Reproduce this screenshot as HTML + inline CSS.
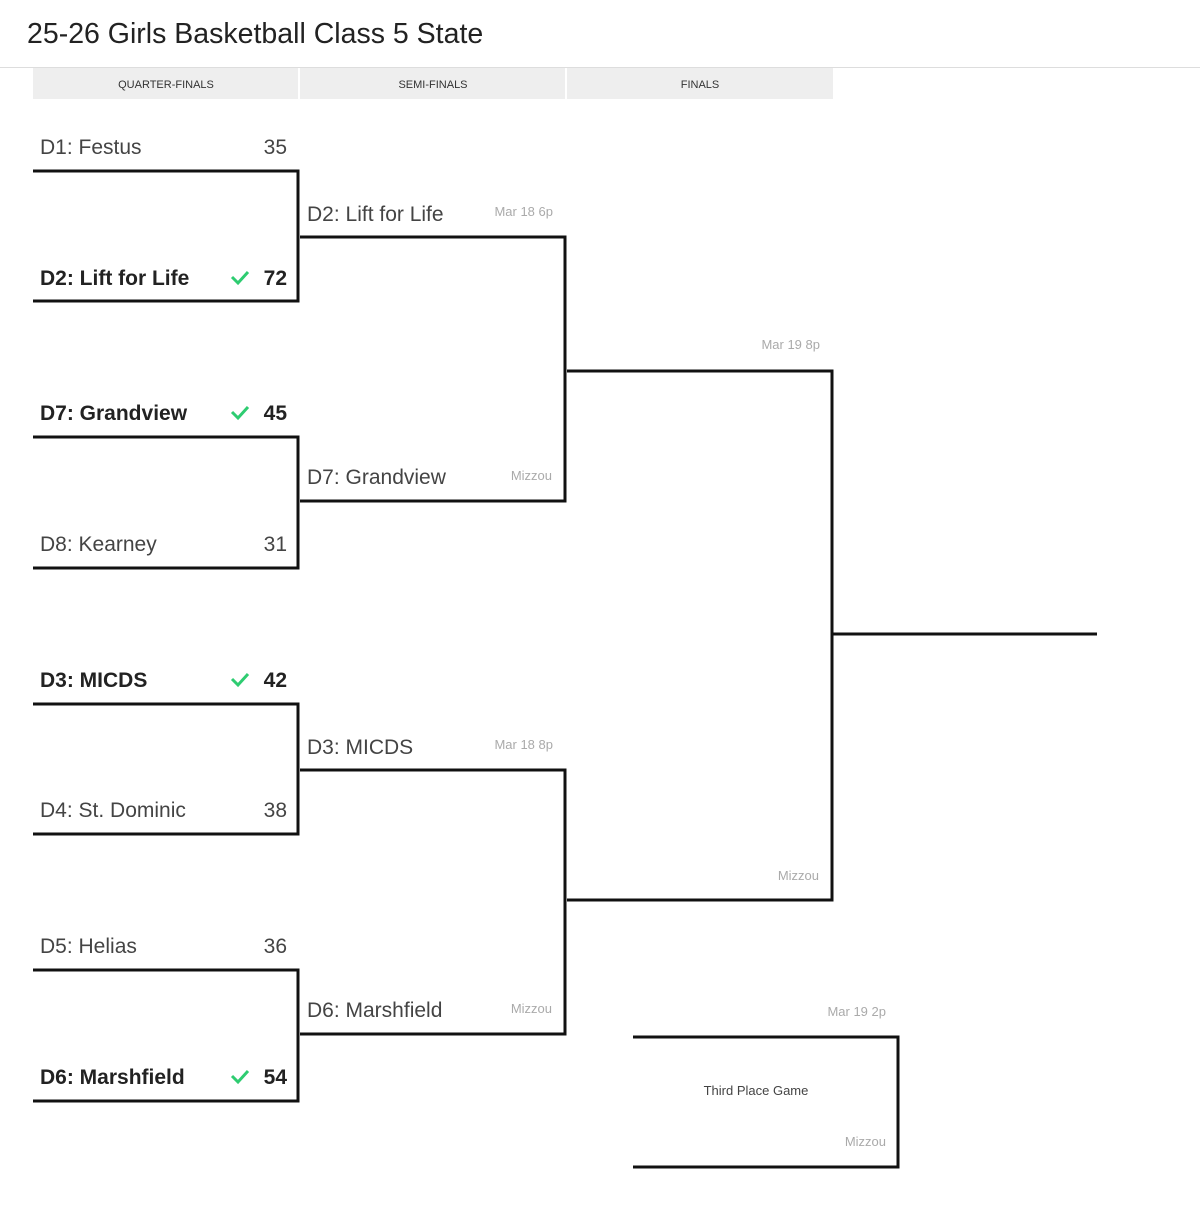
<!DOCTYPE html>
<html><head><meta charset="utf-8"><style>
html,body{margin:0;padding:0;background:#fff;width:1200px;height:1216px;overflow:hidden}
svg text{font-family:"Liberation Sans",sans-serif}
.n{font-size:21px;fill:#444;font-weight:300}
.b{font-size:21px;fill:#222;font-weight:bold}
.s{font-size:13px;fill:#aaa}
.h{font-size:11px;fill:#333}
</style></head><body>
<svg width="1200" height="1216" xmlns="http://www.w3.org/2000/svg">
<text x="27" y="43" style="font-size:28.5px;fill:#222">25-26 Girls Basketball Class 5 State</text>
<line x1="0" y1="67.5" x2="1200" y2="67.5" stroke="#ddd" stroke-width="1"/>
<rect x="33" y="68" width="265" height="31" fill="#eee"/>
<rect x="300" y="68" width="265" height="31" fill="#eee"/>
<rect x="567" y="68" width="266" height="31" fill="#eee"/>
<text class="h" x="166" y="88" text-anchor="middle">QUARTER-FINALS</text>
<text class="h" x="433" y="88" text-anchor="middle">SEMI-FINALS</text>
<text class="h" x="700" y="88" text-anchor="middle">FINALS</text>
<g fill="none" stroke="#111" stroke-width="3">
<path d="M33 171H298V301H33"/>
<path d="M33 437H298V568H33"/>
<path d="M33 704H298V834H33"/>
<path d="M33 970H298V1101H33"/>
<path d="M300 237H565V501H300"/>
<path d="M300 770H565V1034H300"/>
<path d="M567 371H832V900H567"/>
<path d="M832 634H1097"/>
<path d="M633 1037H898V1167H633"/>
</g>
<g>
<text class="n" x="40" y="154">D1: Festus</text><text class="n" x="287" y="154" text-anchor="end">35</text>
<text class="b" x="40" y="285">D2: Lift for Life</text><text class="b" x="287" y="285" text-anchor="end">72</text>
<text class="b" x="40" y="420">D7: Grandview</text><text class="b" x="287" y="420" text-anchor="end">45</text>
<text class="n" x="40" y="551">D8: Kearney</text><text class="n" x="287" y="551" text-anchor="end">31</text>
<text class="b" x="40" y="687">D3: MICDS</text><text class="b" x="287" y="687" text-anchor="end">42</text>
<text class="n" x="40" y="817">D4: St. Dominic</text><text class="n" x="287" y="817" text-anchor="end">38</text>
<text class="n" x="40" y="953">D5: Helias</text><text class="n" x="287" y="953" text-anchor="end">36</text>
<text class="b" x="40" y="1084">D6: Marshfield</text><text class="b" x="287" y="1084" text-anchor="end">54</text>
</g>
<g fill="none" stroke="#2ecc71" stroke-width="3">
<path d="M232 277l6 6 10-11"/>
<path d="M232 412l6 6 10-11"/>
<path d="M232 679l6 6 10-11"/>
<path d="M232 1076l6 6 10-11"/>
</g>
<text class="n" x="307" y="221">D2: Lift for Life</text><text class="s" x="553" y="216" text-anchor="end">Mar 18 6p</text>
<text class="n" x="307" y="484">D7: Grandview</text><text class="s" x="552" y="480" text-anchor="end">Mizzou</text>
<text class="n" x="307" y="754">D3: MICDS</text><text class="s" x="553" y="749" text-anchor="end">Mar 18 8p</text>
<text class="n" x="307" y="1017">D6: Marshfield</text><text class="s" x="552" y="1013" text-anchor="end">Mizzou</text>
<text class="s" x="820" y="349" text-anchor="end">Mar 19 8p</text>
<text class="s" x="819" y="880" text-anchor="end">Mizzou</text>
<text class="s" x="886" y="1016" text-anchor="end">Mar 19 2p</text>
<text x="756" y="1095" text-anchor="middle" style="font-size:13px;fill:#444">Third Place Game</text>
<text class="s" x="886" y="1146" text-anchor="end">Mizzou</text>
</svg>
</body></html>
